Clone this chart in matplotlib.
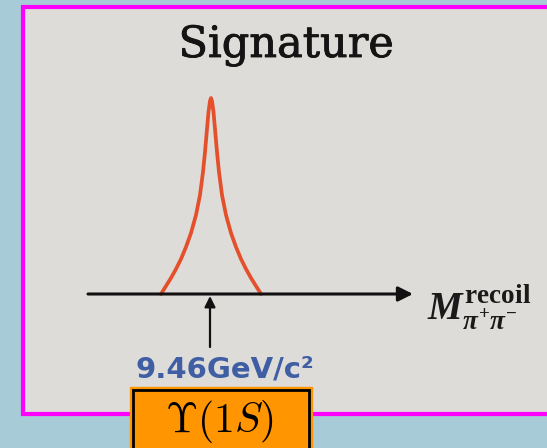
import matplotlib.pyplot as plt
import matplotlib.patheffects as pe
from matplotlib.patches import Rectangle

# Peak shape: distance from the peak centre (px) and height above the axis (px)
half_width = [50, 45, 40, 35, 30, 25, 20, 15, 11, 8, 6, 4, 2.5, 1, 0]
peak_height = [0, 8, 16, 25, 35, 47, 61, 79, 99, 122, 142, 165, 182, 193, 196]
peak_label = '9.46GeV/c²'
title = 'Signature'
axis_label = r'$M^{\mathrm{recoil}}_{\pi^{+}\pi^{-}}$'
state_label = r'$\Upsilon(1S)$'

plt.rcParams['mathtext.fontset'] = 'custom'
plt.rcParams['mathtext.rm'] = 'Liberation Serif:bold'
plt.rcParams['mathtext.it'] = 'Liberation Serif:italic:bold'
plt.rcParams['mathtext.bf'] = 'Liberation Serif:bold'

W, H = 547, 448
fig = plt.figure(figsize=(W / 100, H / 100), dpi=100)
fig.patch.set_facecolor('#a8cbd8')
ax = fig.add_axes([0, 0, 1, 1])
ax.set_xlim(0, W)
ax.set_ylim(H, 0)
ax.axis('off')

# slide panel with magenta frame
ax.add_patch(Rectangle((23, 7), 600, 407, facecolor='#dedcd8',
                       edgecolor='#ff00ff', lw=3, zorder=1))

ax.text(286, 57, title, family='DejaVu Serif', fontsize=31,
        ha='center', va='baseline', color='#141414', zorder=3,
        path_effects=[pe.withStroke(linewidth=0.6, foreground='#141414')])

# mass axis with arrow
axis_y = 294
ax.annotate('', xy=(413, axis_y), xytext=(88, axis_y),
            arrowprops=dict(arrowstyle='-|>', lw=2.2, color='#111111',
                            mutation_scale=22, shrinkA=0, shrinkB=0),
            zorder=4)

# resonance peak
centre = 211
xs = [centre - w for w in half_width] + [centre + w for w in half_width[::-1]]
ys = [axis_y - h for h in peak_height] + [axis_y - h for h in peak_height[::-1]]
ax.plot(xs, ys, color='#e5502c', lw=2.7, solid_joinstyle='round',
        solid_capstyle='round', zorder=3)

ax.text(427, 320, axis_label, fontsize=28, ha='left', va='baseline',
        color='#1a1a1a', zorder=3, math_fontfamily='custom')

# marker arrow and mass value
ax.annotate('', xy=(210, axis_y + 2), xytext=(210, 347),
            arrowprops=dict(arrowstyle='-|>', lw=1.6, color='#111111',
                            mutation_scale=16, shrinkA=0, shrinkB=0),
            zorder=4)
ax.text(225, 378, peak_label, family='DejaVu Sans', fontweight='bold',
        fontsize=21, ha='center', va='baseline', color='#3f5ea3', zorder=3)

# state label box
ax.add_patch(Rectangle((130, 387), 182, 80, facecolor='#ff9500',
                       edgecolor='#ff9500', lw=1, zorder=5))
ax.add_patch(Rectangle((133, 390), 176, 80, facecolor='#ff9500',
                       edgecolor='black', lw=2, zorder=6))
ax.text(220, 432, state_label, fontsize=30, ha='center', va='baseline',
        color='black', zorder=7, math_fontfamily='cm')

fig.savefig('out.png', dpi=100, facecolor=fig.get_facecolor())
